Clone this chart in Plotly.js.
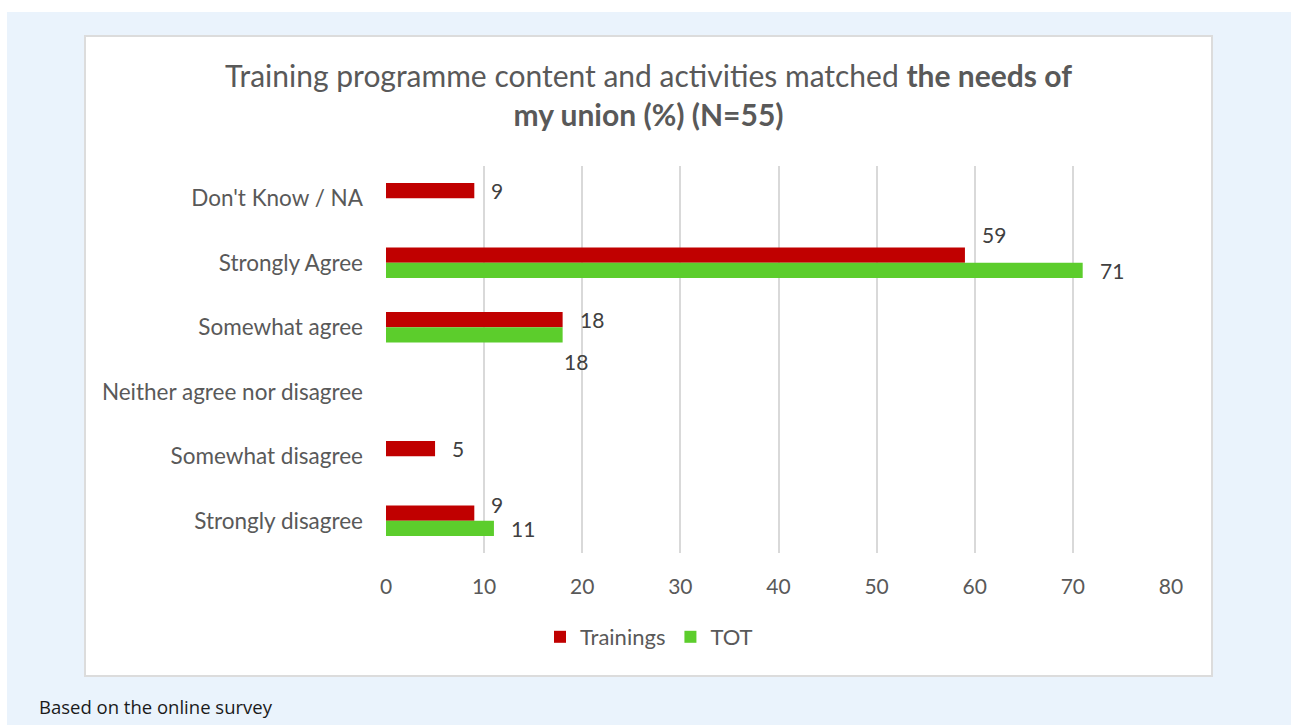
<!DOCTYPE html>
<html>
<head>
<meta charset="utf-8">
<script src="https://cdn.plot.ly/plotly-3.0.1.min.js"></script>
<style>
  html, body { margin: 0; padding: 0; width: 1291px; height: 725px; overflow: hidden; background: #ffffff; }
  #panel { position: absolute; left: 7px; top: 12px; right: 0; bottom: 0; background: #eaf3fc; }
  #card { position: absolute; left: 84px; top: 35px; width: 1129px; height: 642px; box-sizing: border-box;
          background: #ffffff; border: 2px solid #dcdcdc; }
  #chart { position: absolute; left: 0; top: 0; width: 1291px; height: 725px; }
</style>
</head>
<body>
<div id="panel"></div>
<div id="card"></div>
<div id="chart"></div>
<script>
// Survey answers, listed top to bottom
const categories = [
  "Don't Know / NA",
  "Strongly Agree",
  "Somewhat agree",
  "Neither agree nor disagree",
  "Somewhat disagree",
  "Strongly disagree"
];
const trainings = [9, 59, 18, 0, 5, 9];
const tot = [0, 71, 18, 0, 0, 11];
const seriesNames = ["Trainings", "TOT"];
const xTicks = [0, 10, 20, 30, 40, 50, 60, 70, 80];

const RED = "#c00000";
const GREEN = "#5ccd2c";
const TEXT = "#595959";
const FONT = "Lato, 'Open Sans', sans-serif";

// Value label nudges (pixels) where a label sits away from its default spot
const labelNudge = {
  "0-1": { dx: 0, dy: 21 },
  "1-2": { dx: -16, dy: -27 },
  "0-5": { dx: 0, dy: 9 }
};

const series = [trainings, tot];
const colors = [RED, GREEN];

const traces = series.map((vals, s) => ({
  type: "bar",
  orientation: "h",
  name: seriesNames[s],
  y: categories,
  x: vals,
  marker: { color: colors[s] },
  hoverinfo: "x+name"
}));

const halfBar = 7.7;
const annotations = [];
series.forEach((vals, s) => {
  vals.forEach((v, i) => {
    if (!v) return;
    const n = labelNudge[s + "-" + i] || { dx: 0, dy: 0 };
    annotations.push({
      x: v, y: categories[i], xref: "x", yref: "y",
      text: String(v), showarrow: false,
      xanchor: "left", yanchor: "middle",
      xshift: 15 + n.dx,
      yshift: (s === 0 ? halfBar : -halfBar) + n.dy,
      font: { family: FONT, size: 21, color: "#404040" }
    });
  });
});

annotations.push({
  text: "Based on the online survey",
  xref: "paper", yref: "paper",
  x: (37 - 386) / 785, y: (553 - 706) / 387,
  xanchor: "left", yanchor: "middle", showarrow: false,
  font: { family: "'Open Sans', sans-serif", size: 18.5, color: "#1a1a1a" }
});

const layout = {
  width: 1291, height: 725,
  margin: { l: 386, r: 120, t: 166, b: 172 },
  paper_bgcolor: "rgba(0,0,0,0)",
  plot_bgcolor: "rgba(0,0,0,0)",
  barmode: "group",
  bargap: 0.524,
  bargroupgap: 0,
  title: {
    text: "Training programme content and activities matched <b>the needs of</b><br><b>my union (%) (N=55)</b>",
    font: { family: FONT, size: 30, color: TEXT },
    xref: "container", x: 648.5 / 1291, xanchor: "center",
    yref: "container", y: 1 - 87 / 725, yanchor: "top"
  },
  xaxis: {
    range: [0, 80],
    tickvals: xTicks,
    ticktext: xTicks.map(String),
    showgrid: true, gridcolor: "#d9d9d9", gridwidth: 2,
    zeroline: false, showline: false, ticks: "",
    ticklabelstandoff: 19,
    tickfont: { family: FONT, size: 21, color: TEXT },
    fixedrange: true
  },
  yaxis: {
    type: "category",
    autorange: "reversed",
    showgrid: false, zeroline: false, showline: false, ticks: "",
    ticklabelstandoff: 22,
    tickfont: { family: FONT, size: 22.5, color: TEXT },
    fixedrange: true
  },
  showlegend: true,
  legend: {
    orientation: "h",
    x: (649 - 386) / 785, xanchor: "center",
    y: (553 - 637) / 387, yanchor: "middle",
    font: { family: FONT, size: 22, color: TEXT },
    traceorder: "normal",
    itemwidth: 30,
    bgcolor: "rgba(0,0,0,0)"
  },
  annotations: annotations
};

Plotly.newPlot("chart", traces, layout, { displayModeBar: false, staticPlot: true });
</script>
</body>
</html>
